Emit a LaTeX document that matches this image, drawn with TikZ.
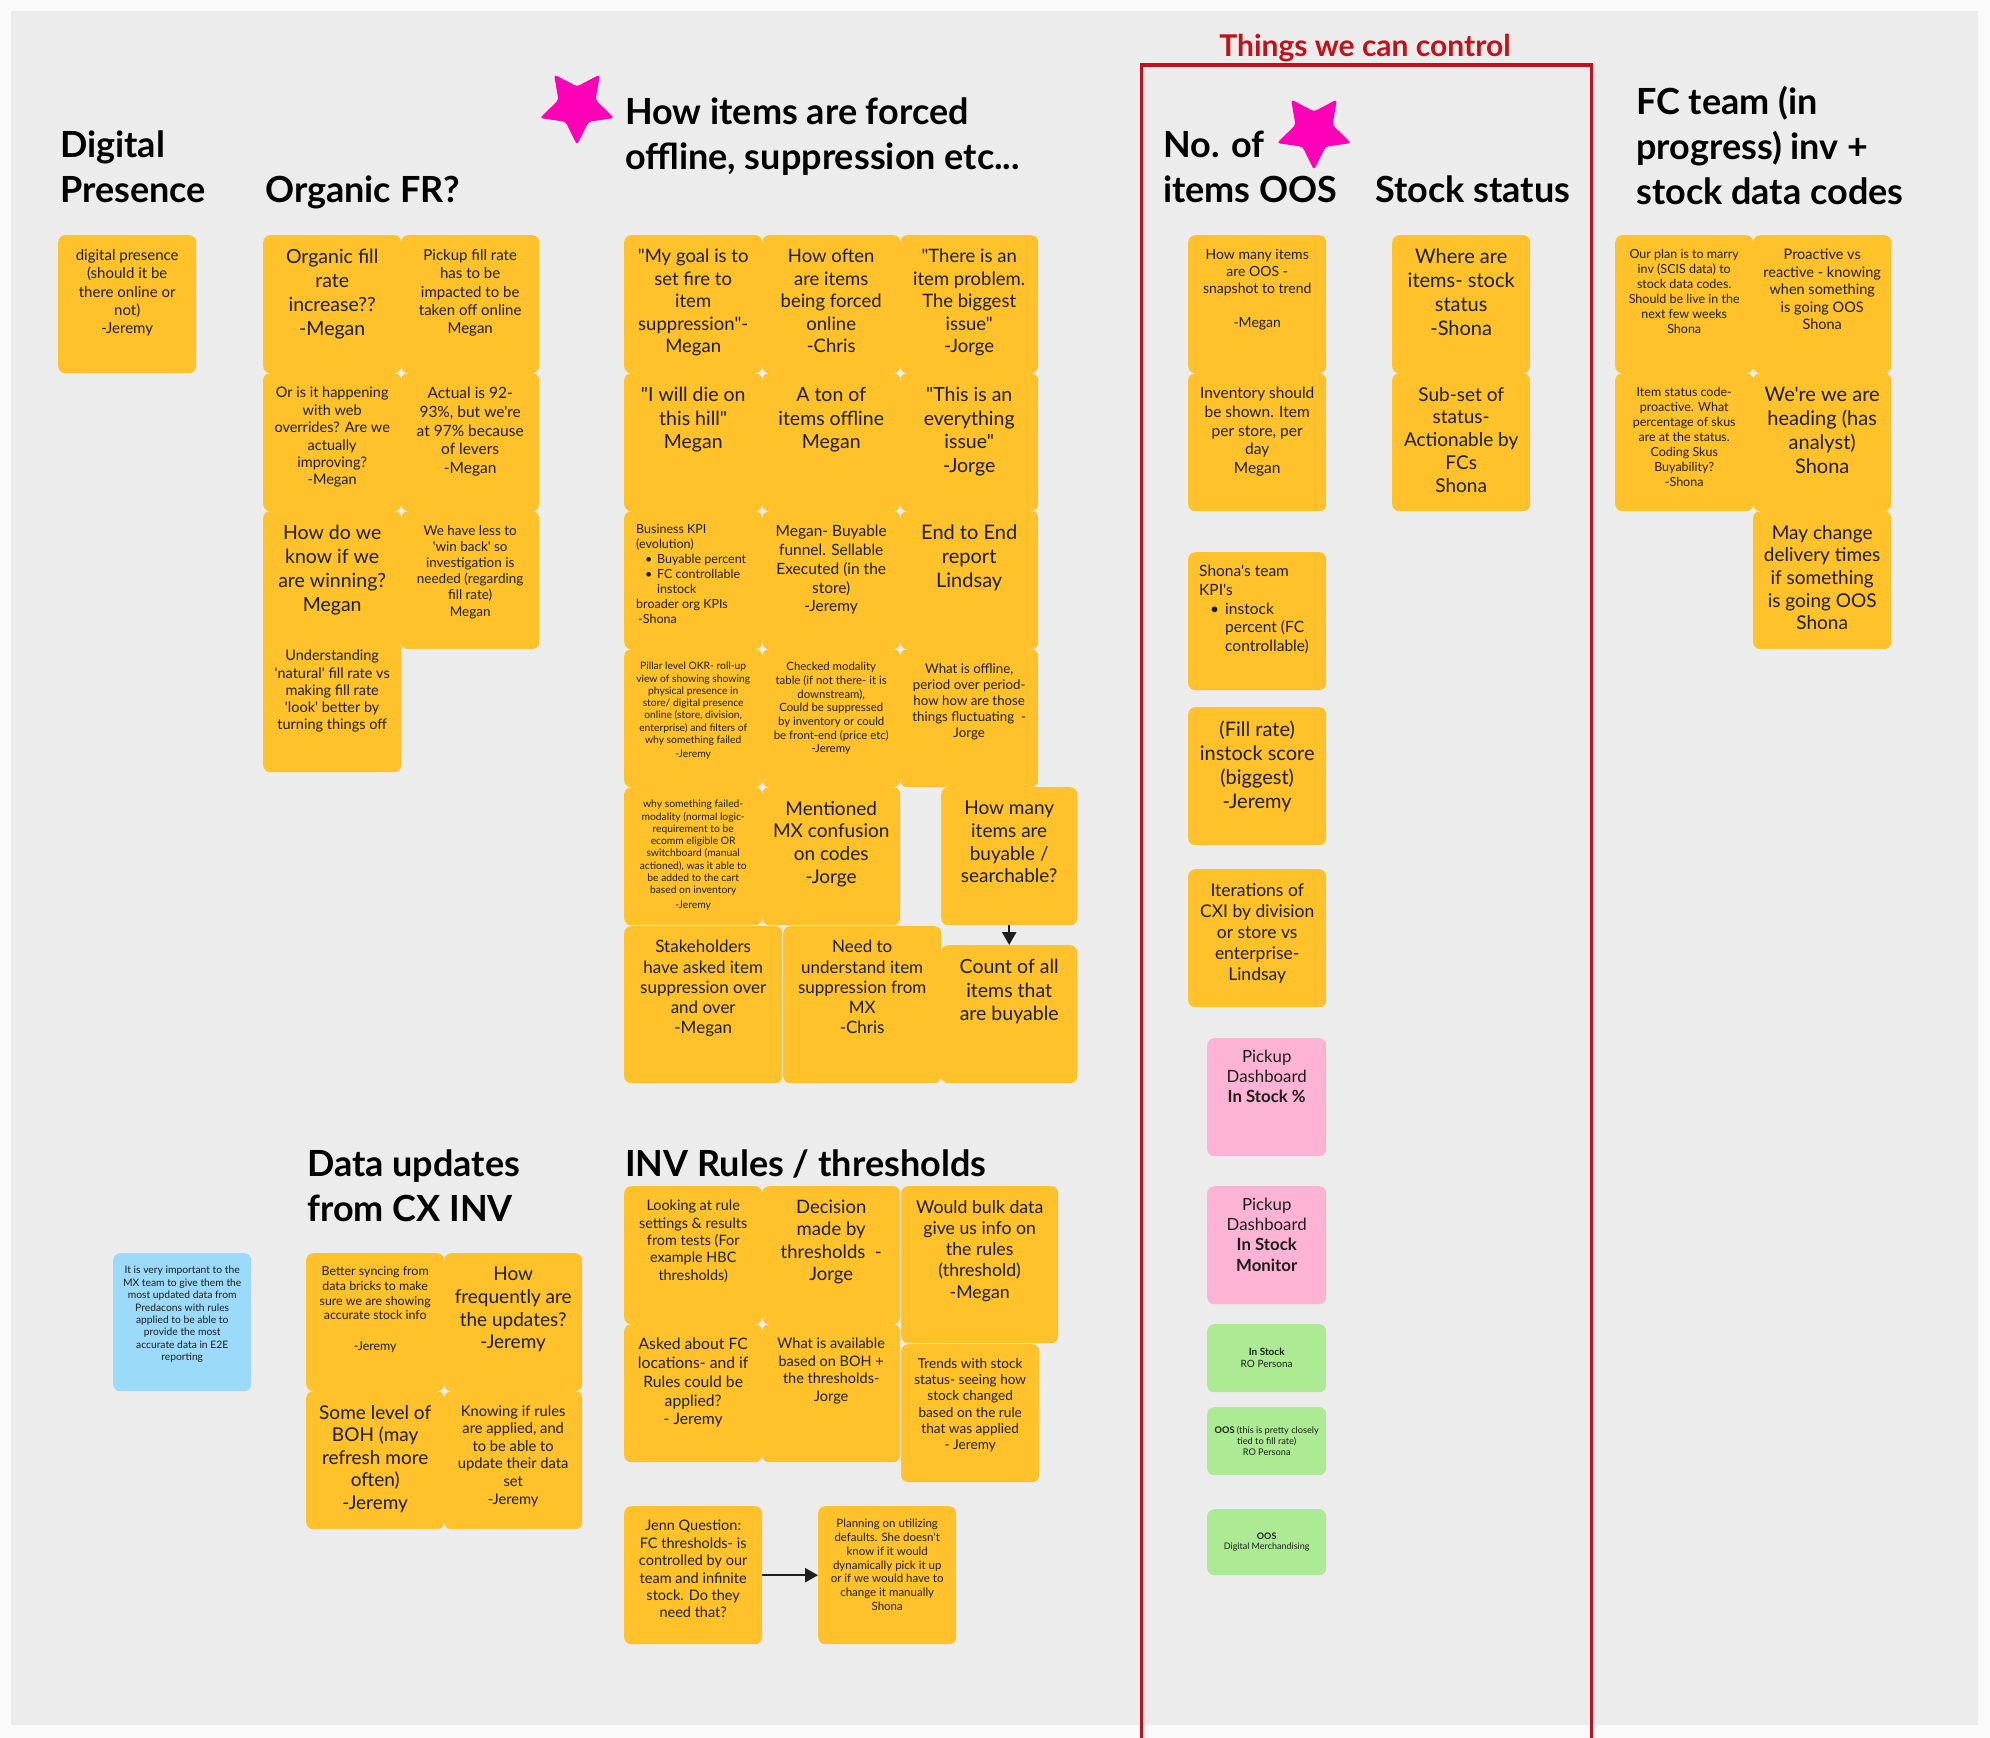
\documentclass[tikz,border=0pt]{standalone}
\usepackage{fontspec}
\setmainfont{Lato}[Ligatures=TeXOff]
\usetikzlibrary{shapes.geometric,arrows.meta}
\definecolor{pageouter}{HTML}{FAFAFA}
\definecolor{boardgrey}{HTML}{ECECEC}
\definecolor{stickyyellow}{HTML}{FFC22A}
\definecolor{stickypink}{HTML}{FDB3D3}
\definecolor{stickygreen}{HTML}{ADEA94}
\definecolor{stickyblue}{HTML}{9BDAF8}
\definecolor{ctrlred}{HTML}{C1121B}
\definecolor{starpink}{HTML}{FF00B8}
\definecolor{ink}{HTML}{1E1E1E}
\newcommand{\notefont}[2]{\fontsize{#1}{#2}\selectfont}

\begin{document}
\begin{tikzpicture}[x=1pt,y=-1pt,
  sticky/.style={rectangle,rounded corners=7pt,fill=stickyyellow,minimum width=138pt,minimum height=138pt,inner sep=0pt,anchor=north west},
  bigsticky/.style={sticky,minimum width=157pt,minimum height=157pt},
  pinknote/.style={sticky,fill=stickypink,minimum width=119pt,minimum height=118pt},
  greennote/.style={sticky,fill=stickygreen,minimum width=119pt,minimum height=68pt},
  txt/.style={anchor=north,align=center,inner sep=0pt,text=ink},
  listtxt/.style={anchor=north west,align=left,inner sep=0pt,text=ink},
  head/.style={anchor=north west,align=left,inner sep=0pt,font=\notefont{36}{45}\bfseries,text=black},
  bigstar/.style={star,star points=5,star point ratio=0.5,fill=starpink,minimum size=39pt,inner sep=0pt,rounded corners=3pt},
  flow/.style={draw=ink,line width=2.5pt,-{Triangle[length=13pt,width=14pt]}}]
\useasboundingbox (0,0) rectangle (1990,1738);
\clip (0,0) rectangle (1990,1738);
\fill[pageouter] (0,0) rectangle (1990,1738);
\fill[boardgrey] (11,11) rectangle (1978,1725);

% things we can control
\draw[ctrlred,line width=3.5pt] (1141.5,1760) |- (1591.5,65) -- (1591.5,1760);
\node[anchor=north,inner sep=0pt,text=ctrlred,font=\notefont{30}{36}\bfseries] (hCtrl) at (1365,34) {Things we can control};

% headings
\node[head] (hDigital) at (60,131) {Digital\\Presence};
\node[head] (hOrganic) at (265,176) {Organic FR?};
\node[head] (hForced) at (625,98) {How items are forced\\offline, suppression etc...};
\node[head] (hOOS) at (1163,131) {No. of\\items OOS};
\node[head] (hStock) at (1375,176) {Stock status};
\node[head] (hFC) at (1636,86) {FC team (in\\progress) inv +\\stock data codes};
\node[head] (hData) at (307,1150) {Data updates\\from CX INV};
\node[head] (hRules) at (625,1150) {INV Rules / thresholds};
\node[bigstar] (starA) at (577,106) {};
\node[bigstar] (starB) at (1314,131) {};

% digital presence
\node[sticky] (dp) at (58,235) {};
\node[txt,font=\notefont{15}{18.4}] (dpT) at ([yshift=-14pt]dp.north) {digital presence\\(should it be\\there online or\\not)\\-Jeremy};

% organic fill rate
\node[sticky] (ofrA) at (263,235) {};
\node[txt,font=\notefont{19.5}{24}] (ofrAT) at ([yshift=-14pt]ofrA.north) {Organic fill\\rate\\increase??\\-Megan};
\node[sticky] (ofrB) at (401,235) {};
\node[txt,font=\notefont{15}{18.4}] (ofrBT) at ([yshift=-14pt]ofrB.north) {Pickup fill rate\\has to be\\impacted to be\\taken off online\\Megan};
\node[sticky] (ofrC) at (263,373) {};
\node[txt,font=\notefont{14.5}{17.4}] (ofrCT) at ([yshift=-14pt]ofrC.north) {Or is it happening\\with web\\overrides? Are we\\actually\\improving?\\-Megan};
\node[sticky] (ofrD) at (401,373) {};
\node[txt,font=\notefont{15.5}{18.7}] (ofrDT) at ([yshift=-14pt]ofrD.north) {Actual is 92-\\93\%, but we're\\at 97\% because\\of levers\\-Megan};
\node[sticky] (ofrE) at (263,511) {};
\node[txt,font=\notefont{19.5}{24}] (ofrET) at ([yshift=-14pt]ofrE.north) {How do we\\know if we\\are winning?\\Megan};
\node[sticky] (ofrF) at (401,511) {};
\node[txt,font=\notefont{13.5}{16.2}] (ofrFT) at ([yshift=-14pt]ofrF.north) {We have less to\\'win back' so\\investigation is\\needed (regarding\\fill rate)\\Megan};
\node[sticky] (ofrG) at (263,634) {};
\node[txt,font=\notefont{14.5}{17.2}] (ofrGT) at ([yshift=-16pt]ofrG.north) {Understanding\\'natural' fill rate vs\\making fill rate\\'look' better by\\turning things off};

% forced offline
\node[sticky] (fA) at (624,235) {};
\node[txt,font=\notefont{18.5}{22.5}] (fAT) at ([yshift=-14pt]fA.north) {"My goal is to\\set fire to\\item\\suppression"-\\Megan};
\node[sticky] (fB) at (762,235) {};
\node[txt,font=\notefont{18.5}{22.5}] (fBT) at ([yshift=-14pt]fB.north) {How often\\are items\\being forced\\online\\-Chris};
\node[sticky] (fC) at (900,235) {};
\node[txt,font=\notefont{18.5}{22.5}] (fCT) at ([yshift=-14pt]fC.north) {"There is an\\item problem.\\The biggest\\issue"\\-Jorge};
\node[sticky] (fD) at (624,373) {};
\node[txt,font=\notefont{19.5}{23.7}] (fDT) at ([yshift=-14pt]fD.north) {"I will die on\\this hill"\\Megan};
\node[sticky] (fE) at (762,373) {};
\node[txt,font=\notefont{19.5}{23.7}] (fET) at ([yshift=-14pt]fE.north) {A ton of\\items offline\\Megan};
\node[sticky] (fF) at (900,373) {};
\node[txt,font=\notefont{19.5}{23.7}] (fFT) at ([yshift=-14pt]fF.north) {"This is an\\everything\\issue"\\-Jorge};
\node[sticky] (fG) at (624,511) {};
\node[listtxt,font=\notefont{12.5}{15}] (fGT) at ([xshift=12pt,yshift=-13pt]fG.north west) {Business KPI\\(evolution)\\\hspace*{9pt}\makebox[12pt][l]{\textbullet}Buyable percent\\\hspace*{9pt}\makebox[12pt][l]{\textbullet}FC controllable\\\hspace*{21pt}instock\\broader org KPIs\\\hspace*{2pt}-Shona};
\node[sticky] (fH) at (762,511) {};
\node[txt,font=\notefont{15.5}{18.8}] (fHT) at ([yshift=-14pt]fH.north) {Megan- Buyable\\funnel. Sellable\\Executed (in the\\store)\\-Jeremy};
\node[sticky] (fI) at (900,511) {};
\node[txt,font=\notefont{20}{24}] (fIT) at ([yshift=-14pt]fI.north) {End to End\\report\\Lindsay};
\node[sticky] (fJ) at (624,649) {};
\node[txt,font=\notefont{10.3}{12.3}] (fJT) at ([yshift=-13pt]fJ.north) {Pillar level OKR- roll-up\\view of showing showing\\physical presence in\\store/ digital presence\\online (store, division,\\enterprise) and filters of\\why something failed\\[2pt]-Jeremy};
\node[sticky] (fK) at (762,649) {};
\node[txt,font=\notefont{11.4}{13.7}] (fKT) at ([yshift=-13pt]fK.north) {Checked modality\\table (if not there- it is\\downstream),\\Could be suppressed\\by inventory or could\\be front-end (price etc)\\-Jeremy};
\node[sticky] (fL) at (900,649) {};
\node[txt,font=\notefont{13.3}{16}] (fLT) at ([yshift=-14pt]fL.north) {What is offline,\\period over period-\\how how are those\\things fluctuating\ \ -\\Jorge};
\node[sticky] (fM) at (624,787) {};
\node[txt,font=\notefont{10.3}{12.3}] (fMT) at ([yshift=-13pt]fM.north) {why something failed-\\modality (normal logic-\\requirement to be\\ecomm eligible OR\\switchboard (manual\\actioned), was it able to\\be added to the cart\\based on inventory\\[2pt]-Jeremy};
\node[sticky] (fN) at (762,787) {};
\node[txt,font=\notefont{19}{22.7}] (fNT) at ([yshift=-14pt]fN.north) {Mentioned\\MX confusion\\on codes\\-Jorge};
\node[sticky,minimum width=136pt] (fO) at (941,787) {};
\node[txt,font=\notefont{19}{22.7}] (fOT) at ([yshift=-14pt]fO.north) {How many\\items are\\buyable /\\searchable?};
\node[sticky,minimum width=158pt,minimum height=157pt] (fP) at (624,926) {};
\node[txt,font=\notefont{17}{20.3}] (fPT) at ([yshift=-14pt]fP.north) {Stakeholders\\have asked item\\suppression over\\and over\\-Megan};
\node[sticky,minimum width=158pt,minimum height=157pt] (fQ) at (783,926) {};
\node[txt,font=\notefont{17}{20.3}] (fQT) at ([yshift=-14pt]fQ.north) {Need to\\understand item\\suppression from\\MX\\-Chris};
\node[sticky,minimum width=136pt] (fR) at (941,945) {};
\node[txt,font=\notefont{19.5}{23.5}] (fRT) at ([yshift=-14pt]fR.north) {Count of all\\items that\\are buyable};
\draw[flow] (fO.south) -- (fR.north);

% no. of items OOS
\node[sticky] (oA) at (1188,235) {};
\node[txt,font=\notefont{14}{17}] (oAT) at ([yshift=-14pt]oA.north) {How many items\\are OOS -\\snapshot to trend\\[17pt]-Megan};
\node[sticky] (oB) at (1188,373) {};
\node[txt,font=\notefont{15.5}{18.7}] (oBT) at ([yshift=-14pt]oB.north) {Inventory should\\be shown. Item\\per store, per\\day\\Megan};
\node[sticky] (oC) at (1188,552) {};
\node[listtxt,font=\notefont{15.5}{18.7}] (oCT) at ([xshift=11pt,yshift=-13pt]oC.north west) {Shona's team\\KPI's\\\hspace*{11pt}\makebox[15pt][l]{\textbullet}instock\\\hspace*{26pt}percent (FC\\\hspace*{26pt}controllable)};
\node[sticky] (oD) at (1188,707) {};
\node[txt,font=\notefont{20}{24}] (oDT) at ([yshift=-14pt]oD.north) {(Fill rate)\\instock score\\(biggest)\\-Jeremy};
\node[sticky] (oE) at (1188,869) {};
\node[txt,font=\notefont{17.5}{21}] (oET) at ([yshift=-14pt]oE.north) {Iterations of\\CXI by division\\or store vs\\enterprise-\\Lindsay};
\node[pinknote] (pkA) at (1207,1038) {};
\node[txt,font=\notefont{16.8}{20.2}] (pkAT) at ([yshift=-12pt]pkA.north) {Pickup\\Dashboard\\\textbf{In Stock \%}};
\node[pinknote] (pkB) at (1207,1186) {};
\node[txt,font=\notefont{16.8}{20.2}] (pkBT) at ([yshift=-12pt]pkB.north) {Pickup\\Dashboard\\\textbf{In Stock}\\\textbf{Monitor}};
\node[greennote] (grA) at (1207,1324) {};
\node[txt,anchor=center,font=\notefont{10}{12.2}] (grAT) at (grA.center) {\textbf{In Stock}\\RO Persona};
\node[greennote] (grB) at (1207,1407) {};
\node[txt,anchor=center,font=\notefont{9.2}{11}] (grBT) at (grB.center) {\textbf{OOS} (this is pretty closely\\tied to fill rate)\\RO Persona};
\node[greennote,minimum height=66pt] (grC) at (1207,1509) {};
\node[txt,anchor=center,font=\notefont{9}{10.6}] (grCT) at (grC.center) {\textbf{OOS}\\Digital Merchandising};

% stock status
\node[sticky] (sA) at (1392,235) {};
\node[txt,font=\notefont{20}{24}] (sAT) at ([yshift=-14pt]sA.north) {Where are\\items- stock\\status\\-Shona};
\node[sticky] (sB) at (1392,373) {};
\node[txt,font=\notefont{19}{22.7}] (sBT) at ([yshift=-14pt]sB.north) {Sub-set of\\status-\\Actionable by\\FCs\\Shona};

% FC team
\node[sticky] (fcA) at (1615,235) {};
\node[txt,font=\notefont{12.5}{15}] (fcAT) at ([yshift=-14pt]fcA.north) {Our plan is to marry\\inv (SCIS data) to\\stock data codes.\\Should be live in the\\next few weeks\\Shona};
\node[sticky] (fcB) at (1753,235) {};
\node[txt,font=\notefont{14.5}{17.4}] (fcBT) at ([yshift=-14pt]fcB.north) {Proactive vs\\reactive - knowing\\when something\\is going OOS\\Shona};
\node[sticky] (fcC) at (1615,373) {};
\node[txt,font=\notefont{12.5}{15}] (fcCT) at ([yshift=-14pt]fcC.north) {Item status code-\\proactive. What\\percentage of skus\\are at the status.\\Coding Skus\\Buyability?\\-Shona};
\node[sticky] (fcD) at (1753,373) {};
\node[txt,font=\notefont{20}{24}] (fcDT) at ([yshift=-14pt]fcD.north) {We're we are\\heading (has\\analyst)\\Shona};
\node[sticky] (fcE) at (1753,511) {};
\node[txt,font=\notefont{19}{22.6}] (fcET) at ([yshift=-14pt]fcE.north) {May change\\delivery times\\if something\\is going OOS\\Shona};

% data updates
\node[sticky,fill=stickyblue] (blue) at (113,1253) {};
\node[txt,font=\notefont{10.3}{12.4}] (blueT) at ([yshift=-13pt]blue.north) {It is very important to the\\MX team to give them the\\most updated data from\\Predacons with rules\\applied to be able to\\provide the most\\accurate data in E2E\\reporting};
\node[sticky] (duA) at (306,1253) {};
\node[txt,font=\notefont{12.4}{14.9}] (duAT) at ([yshift=-13pt]duA.north) {Better syncing from\\data bricks to make\\sure we are showing\\accurate stock info\\[16pt]-Jeremy};
\node[sticky] (duB) at (444,1253) {};
\node[txt,font=\notefont{19}{22.6}] (duBT) at ([yshift=-14pt]duB.north) {How\\frequently are\\the updates?\\-Jeremy};
\node[sticky] (duC) at (306,1391) {};
\node[txt,font=\notefont{19}{22.5}] (duCT) at ([yshift=-14pt]duC.north) {Some level of\\BOH (may\\refresh more\\often)\\-Jeremy};
\node[sticky] (duD) at (444,1391) {};
\node[txt,font=\notefont{14.7}{17.6}] (duDT) at ([yshift=-14pt]duD.north) {Knowing if rules\\are applied, and\\to be able to\\update their data\\set\\-Jeremy};

% inv rules
\node[sticky] (irA) at (624,1186) {};
\node[txt,font=\notefont{14.4}{17.3}] (irAT) at ([yshift=-14pt]irA.north) {Looking at rule\\settings \& results\\from tests (For\\example HBC\\thresholds)};
\node[sticky] (irB) at (762,1186) {};
\node[txt,font=\notefont{18.5}{22.2}] (irBT) at ([yshift=-14pt]irB.north) {Decision\\made by\\thresholds\ \ -\\Jorge};
\node[bigsticky] (irC) at (901,1186) {};
\node[txt,font=\notefont{17.7}{21.2}] (irCT) at ([yshift=-14pt]irC.north) {Would bulk data\\give us info on\\the rules\\(threshold)\\-Megan};
\node[sticky] (irD) at (624,1324) {};
\node[txt,font=\notefont{15.7}{18.8}] (irDT) at ([yshift=-14pt]irD.north) {Asked about FC\\locations- and if\\Rules could be\\applied?\\- Jeremy};
\node[sticky] (irE) at (762,1324) {};
\node[txt,font=\notefont{14.5}{17.4}] (irET) at ([yshift=-14pt]irE.north) {What is available\\based on BOH +\\the thresholds-\\Jorge};
\node[sticky] (irF) at (901,1344) {};
\node[txt,font=\notefont{13.6}{16.3}] (irFT) at ([yshift=-14pt]irF.north) {Trends with stock\\status- seeing how\\stock changed\\based on the rule\\that was applied\\- Jeremy};
\node[sticky] (irG) at (624,1506) {};
\node[txt,font=\notefont{14.5}{17.4}] (irGT) at ([yshift=-14pt]irG.north) {Jenn Question:\\FC thresholds- is\\controlled by our\\team and infinite\\stock. Do they\\need that?};
\node[sticky] (irH) at (818,1506) {};
\node[txt,font=\notefont{11.5}{13.8}] (irHT) at ([yshift=-13pt]irH.north) {Planning on utilizing\\defaults. She doesn't\\know if it would\\dynamically pick it up\\or if we would have to\\change it manually\\Shona};
\draw[flow] (irG.east) -- (irH.west);
\end{tikzpicture}
\end{document}
